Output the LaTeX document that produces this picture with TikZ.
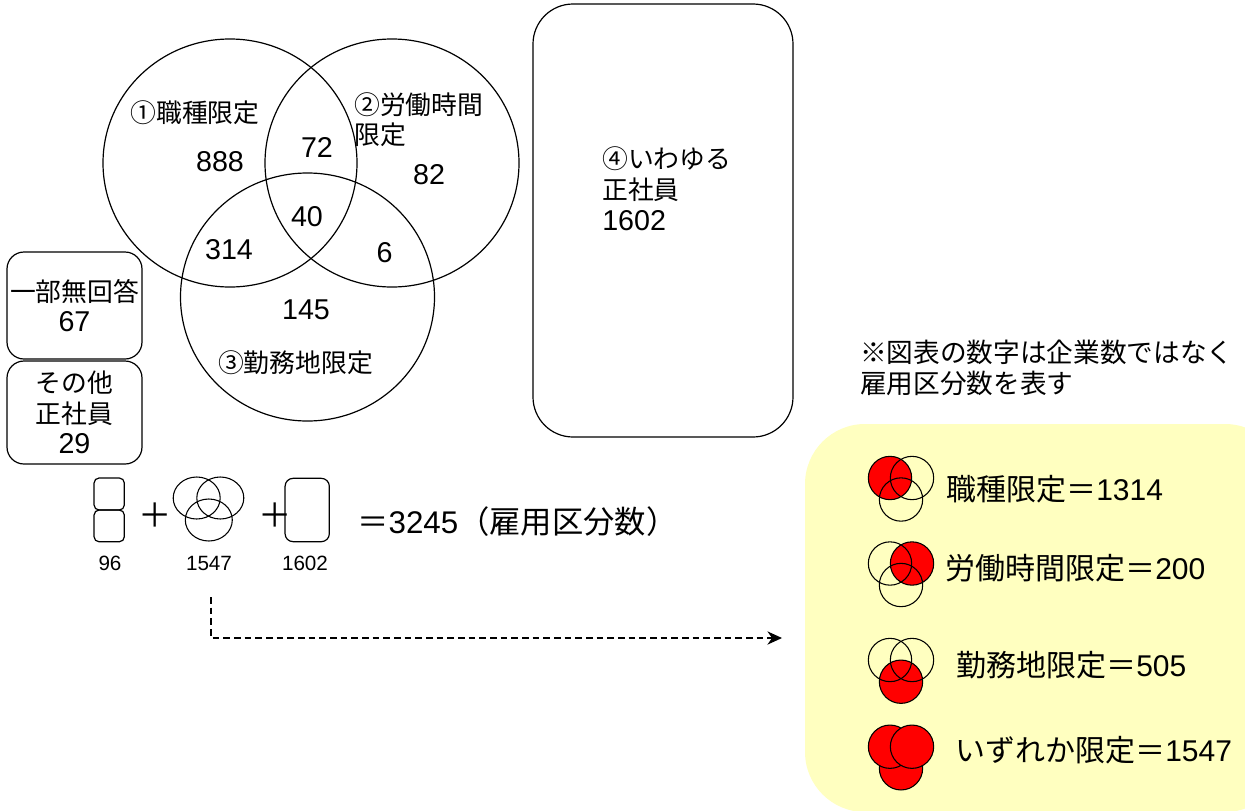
\documentclass[tikz,border=0pt]{standalone}
\usepackage{fontspec}
\setmainfont{Liberation Sans}
\newfontfamily\cjk{Noto Sans CJK JP}
\newfontfamily\cjkn[Scale=0.9]{Noto Sans CJK JP}
\newcommand{\jp}[1]{{\cjk #1}}
\newcommand{\jn}[1]{{\cjkn #1}}
\usetikzlibrary{shapes.geometric,arrows.meta}
\definecolor{legendyellow}{RGB}{255,255,192}
\begin{document}
\begin{tikzpicture}[x=0.75pt,y=-0.75pt,
  vt/.style={inner sep=0pt, font=\fontsize{21.5}{22.5}\selectfont},
  lt/.style={inner sep=0pt, anchor=west, font=\fontsize{22.5}{27}\selectfont},
  st/.style={inner sep=0pt, font=\fontsize{15.5}{18}\selectfont},
  bigvenn/.style={ellipse, draw, line width=0.9pt, minimum width=190.5pt, minimum height=186pt, inner sep=0pt},
  smallvenn/.style={ellipse, draw, line width=0.8pt, minimum width=35.25pt, minimum height=31.5pt, inner sep=0pt},
  legc/.style={circle, draw, line width=0.8pt, minimum size=32.5pt, inner sep=0pt},
  redc/.style={legc, fill=red},
  rbox/.style={draw, line width=0.9pt, inner sep=0pt},
]
\useasboundingbox (0,0) rectangle (1245,810);
% legend background
\begin{scope}
\clip (0,0) rectangle (1245,810);
\node[fill=legendyellow, rounded corners=45pt, minimum width=360pt, minimum height=291pt, inner sep=0pt] (legend) at (1045,618) {};
\end{scope}

% big Venn
\node[bigvenn] (c1) at (230,163) {};
\node[bigvenn] (c2) at (392,163) {};
\node[bigvenn] (c3) at (307.5,297) {};
\node[vt] (n1) at (195,113) {\jn{①職種限定}};
\node[vt] (n888) at (220,162) {888};
\node[vt] (n72) at (317,147) {72};
\node[vt, anchor=west, align=left] (n2) at (354,120) {\jn{②労働時間}\\\jn{限定}};
\node[vt] (n82) at (429,175) {82};
\node[vt] (n40) at (307,217) {40};
\node[vt] (n314) at (229,250) {314};
\node[vt] (n6) at (384.5,253) {6};
\node[vt] (n145) at (306,310) {145};
\node[vt] (n3) at (295.5,363) {\jn{③勤務地限定}};

% box 4
\node[rbox, rounded corners=30pt, minimum width=195pt, minimum height=324.75pt] (b4) at (663,220.5) {};
\node[vt, align=left, anchor=west, font=\fontsize{21.5}{23.25}\selectfont] (t4) at (602,189) {\jn{④いわゆる}\\\jn{正社員}\\1602};

% left boxes
\node[rbox, vt, rounded corners=12.75pt, minimum width=101.25pt, minimum height=80.25pt, align=center, font=\fontsize{21.5}{23}\selectfont] (b1) at (74.5,305.5) {\jn{一部無回答}\\67};
\node[rbox, vt, rounded corners=12.75pt, minimum width=101.25pt, minimum height=77.25pt, align=center, font=\fontsize{21.5}{22.9}\selectfont] (b2) at (74.5,412.5) {\jn{その他}\\\jn{正社員}\\29};

% small icons
\node[rbox, rounded corners=3.75pt, minimum width=22.7pt, minimum height=24pt] (s1a) at (109.2,494) {};
\node[rbox, rounded corners=3.75pt, minimum width=22.7pt, minimum height=23.8pt] (s1b) at (109.2,525.9) {};
\node[inner sep=0pt, font=\fontsize{25}{25}\selectfont] (p1) at (155,515.5) {\jp{＋}};
\node[smallvenn] (sv1) at (196.7,498) {};
\node[smallvenn] (sv2) at (220.3,498) {};
\node[smallvenn] (sv3) at (208.8,520) {};
\node[inner sep=0pt, font=\fontsize{25}{25}\selectfont] (p2) at (275,515) {\jp{＋}};
\node[rbox, rounded corners=6pt, minimum width=33.2pt, minimum height=47.5pt] (s3) at (307.2,510) {};
\node[st] (l96) at (110,563) {96};
\node[st] (l1547) at (209,563) {1547};
\node[st] (l1602) at (305,563) {1602};
\node[inner sep=0pt, anchor=west, font=\fontsize{23.5}{28}\selectfont] (tot) at (357,522) {\jp{＝}3245\jp{（雇用区分数）}};

% arrow
\coordinate (arrS) at (211,597);
\coordinate (arrE) at (782,638);
\draw[line width=0.9pt, dash pattern=on 5pt off 3pt, -{Stealth[length=11pt,width=10pt]}] (arrS) |- (arrE);

% note
\node[inner sep=0pt, anchor=west, align=left, font=\fontsize{20}{23.6}\selectfont] (note) at (860,368) {\jp{※図表の数字は企業数ではなく}\\\jp{雇用区分数を表す}};

% legend icons
\node[redc] (l1a) at (890,478) {};
\node[legc] (l1b) at (912,478) {};
\node[legc] (l1c) at (901,499.5) {};
\node[lt] (lt1) at (946,489) {\jp{職種限定＝}1314};

\node[redc] (l2b) at (912,563.5) {};
\node[legc] (l2a) at (890,563.5) {};
\node[legc] (l2c) at (901,585) {};
\node[lt] (lt2) at (945,568) {\jp{労働時間限定＝}200};

\node[redc] (l3c) at (901,681.7) {};
\node[legc] (l3a) at (890,660) {};
\node[legc] (l3b) at (912,660) {};
\node[lt] (lt3) at (956,665) {\jp{勤務地限定＝}505};

\node[redc] (l4c) at (901,768.3) {};
\node[redc] (l4a) at (890,746.7) {};
\node[redc] (l4b) at (912,746.7) {};
\node[lt] (lt4) at (955,750) {\jp{いずれか限定＝}1547};
\end{tikzpicture}
\end{document}
